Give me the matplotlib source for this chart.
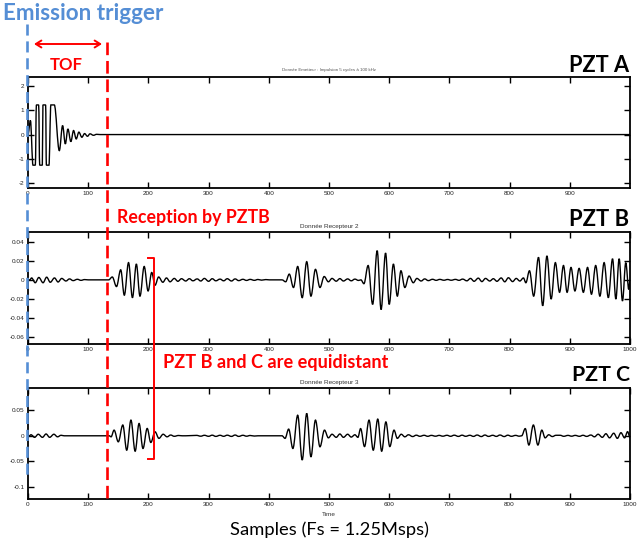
import matplotlib
matplotlib.use('Agg')
import matplotlib.pyplot as plt
from matplotlib.lines import Line2D
from matplotlib.patches import FancyArrowPatch, PathPatch
from matplotlib.path import Path

W, H = 639, 544

# ---------------- data (extrema: sample index, amplitude) -------------
a_pos = [0, 4, 8.3, 12.2, 13.9, 17.7, 19.4, 23.8, 24.8, 29.3, 30.5, 34.8, 38, 43.7,
         52, 57.5, 62, 66.3, 71.2, 75.7, 80.1, 84.5, 89.5, 94, 98.8, 103, 108.8, 114, 120, 1000]
a_val = [0, 0.58, -1.26, -1.26, 1.22, 1.22, -1.26, -1.26, 1.22, 1.22, -1.26, -1.26, 1.22, 1.22,
         -0.66, 0.37, -0.385, 0.23, -0.29, 0.165, -0.18, 0.10, -0.11, 0.04, -0.07, 0.03, -0.03,
         0.01, 0, 0]

b_pos = [0, 3, 6, 12, 18, 25, 31, 37, 44, 50, 56, 63, 69, 75, 82, 88, 94, 100, 134,
         140, 147, 154, 160, 167, 173.5, 180, 186, 193, 199.5, 205.5, 211,
         217, 224, 230, 236, 243, 249, 255, 262, 268, 274, 281, 287, 293, 300, 306, 312,
         319, 325, 331, 338, 344, 350, 357, 363, 369, 376, 382, 388, 395, 401, 422,
         428, 434, 441, 448, 455.5, 463, 470, 477.5, 485, 492, 499,
         505, 512, 518, 524, 531, 537, 543, 549, 553,
         558, 565, 572.5, 580, 586.5, 594, 600, 607, 613.5, 619.5, 626, 633, 640,
         646, 653, 659, 665, 672, 678, 684, 691, 697, 703, 710, 716, 722, 729, 735, 741,
         748, 754, 760, 767, 773, 779, 786, 792, 798, 805, 811, 817, 823,
         827, 833, 840, 848, 855, 862, 869, 876, 883, 889.5, 895.5, 902, 908.5, 915.5,
         922.5, 929.5, 936, 943, 950, 957, 964, 971, 976.5, 982, 987.5, 993, 998, 1000]
b_val = [0, 0, 0.002, -0.003, 0.0025, -0.003, 0.0028, -0.0025, 0.002, -0.0022, 0.0015, -0.0012,
         0.001, -0.0008, 0.0006, -0.0005, 0.0003, 0, 0,
         0.003, -0.007, 0.0105, -0.016, 0.018, -0.0186, 0.0165, -0.017, 0.014, -0.0116, 0.0077, -0.0056,
         0.003, -0.0025, 0.002, -0.002, 0.0015, -0.0015, 0.0012, -0.0012, 0.0012, -0.001, 0.001,
         -0.0012, 0.0015, -0.0015, 0.0012, -0.001,
         0.0008, -0.001, 0.0012, -0.0012, 0.001, -0.0008, 0.0006, -0.0006, 0.0005, -0.0005, 0.0004,
         -0.0003, 0.0003, 0, 0,
         -0.002, 0.006, -0.008, 0.014, -0.0186, 0.019, -0.017, 0.011, -0.008, 0.0035, -0.002,
         0.0015, -0.0014, 0.0013, -0.0012, 0.001, -0.001, 0.0008, -0.0006, 0,
         -0.004, 0.015, -0.0256, 0.0305, -0.031, 0.028, -0.0256, 0.0165, -0.017, 0.0095, -0.008,
         0.004, -0.003,
         0.0015, -0.0012, 0.001, -0.0008, 0.0006, -0.0005, 0.0005, -0.0004, 0.0004, -0.0004, 0.0005,
         -0.0005, 0.0008, -0.001, 0.0015, -0.0015,
         0.0018, -0.0018, 0.0015, -0.0012, 0.0012, -0.0015, 0.002, -0.002, 0.0022, -0.0018, 0.0015,
         -0.0012, 0.002,
         -0.003, 0.0095, -0.017, 0.0235, -0.027, 0.025, -0.020, 0.018, -0.013, 0.015, -0.013, 0.013,
         -0.0116, 0.012,
         -0.013, 0.013, -0.015, 0.015, -0.017, 0.018, -0.0186, 0.022, -0.020, 0.022, -0.022, 0.018,
         -0.010, 0]

c_pos = [0, 2, 5, 11, 17, 24, 30, 36, 43, 49, 55, 60, 135,
         138, 143, 150, 157.5, 164, 171, 178, 184.5, 191, 198, 204, 211, 217.5, 224.5, 231, 237,
         243, 250, 256, 262,
         280, 287, 293, 300, 306, 312, 319, 325, 331, 338, 344, 350, 357, 363, 369, 376, 382, 418,
         422, 427, 433, 440, 448, 455.5, 463, 470, 477.5, 485, 492.5, 499,
         505, 512, 518, 524, 531, 537, 543, 548,
         552.5, 559, 566.5, 573.5, 581, 587.5, 594.5, 601, 608, 613.5, 620, 626,
         632, 639, 645, 651, 658, 664, 670, 677, 683, 689, 696, 702, 708, 715, 721, 727, 734,
         740, 746, 753, 759, 765, 772, 778, 784, 791, 797, 803, 810, 816, 820,
         826, 832, 839.5, 847, 853.5, 859, 865, 871, 877,
         884, 890, 897, 903, 909, 916, 922, 928, 935, 941, 947, 954, 960, 966, 973, 979, 985,
         991, 996, 1000]
c_val = [0, 0, 0.002, -0.003, 0.003, -0.003, 0.0035, -0.003, 0.003, -0.002, 0.001, 0, 0,
         -0.002, 0.011, -0.0117, 0.021, -0.028, 0.0305, -0.030, 0.024, -0.0247, 0.0143, -0.013,
         0.0078, -0.005, 0.003, -0.002, 0.0015, -0.001, 0.0006, 0, 0,
         0.0008, -0.0008, 0.001, -0.001, 0.0012, -0.0012, 0.001, -0.001, 0.0012, -0.0012, 0.0015,
         -0.0012, 0.001, -0.0008, 0.0006, -0.0005, 0, 0,
         0, -0.005, 0.013, -0.0247, 0.040, -0.047, 0.0435, -0.041, 0.0305, -0.0214, 0.011, -0.004,
         0.003, -0.003, 0.0035, -0.003, 0.003, -0.0025, 0.002, -0.003,
         0.014, -0.021, 0.0305, -0.028, 0.0325, -0.030, 0.027, -0.021, 0.011, -0.005, 0.003, -0.002,
         0.002, -0.0015, 0.0012, -0.001, 0.001, -0.001, 0.0008, -0.0008, 0.0008, -0.0008, 0.001,
         -0.001, 0.0012, -0.0012, 0.0012, -0.001, 0.001,
         -0.0012, 0.0015, -0.0015, 0.0015, -0.0012, 0.001, -0.0012, 0.0015, -0.0015, 0.0012, -0.001,
         0.0008, -0.0008, 0,
         0.014, -0.018, 0.021, -0.018, 0.011, -0.004, 0.002, -0.0015, 0.001,
         0.001, -0.001, 0.0008, -0.0008, 0.0008, -0.001, 0.001, -0.0012, 0.0015, -0.002, 0.003,
         -0.003, 0.004, -0.004, 0.005, -0.005, 0.006, -0.004, 0.008, -0.003]

x_ticks = [0, 100, 200, 300, 400, 500, 600, 700, 800, 900, 1000]
a_yticks = [-2, -1, 0, 1, 2]
a_ylabels = ['-2', '-1', '0', '1', '2']
b_yticks = [-0.06, -0.04, -0.02, 0, 0.02, 0.04]
b_ylabels = ['-0.06', '-0.04', '-0.02', '0', '0.02', '0.04']
c_yticks = [-0.1, -0.05, 0, 0.05]
c_ylabels = ['-0.1', '-0.05', '0', '0.05']

# ---------------- figure ----------------
fig = plt.figure(figsize=(W / 100, H / 100), dpi=100)


def fx(px):
    return px / W


def fy(py):
    return 1 - py / H


LEFT, RIGHT = 28, 630


def make_ax(top, bottom):
    ax = fig.add_axes([fx(LEFT), fy(bottom), fx(RIGHT) - fx(LEFT), fy(top) - fy(bottom)])
    for s in ax.spines.values():
        s.set_linewidth(1.3)
    ax.tick_params(direction='in', top=True, right=True, length=4, width=1.0,
                   labelsize=4.6, pad=2.5, labelcolor='#222222')
    return ax


def draw_wave(ax, xs, ys):
    # smooth curve through the extrema (horizontal tangent at each extremum)
    verts = [(xs[0], ys[0])]
    codes = [Path.MOVETO]
    for i in range(1, len(xs)):
        dx = xs[i] - xs[i - 1]
        verts += [(xs[i - 1] + 0.364 * dx, ys[i - 1]), (xs[i] - 0.364 * dx, ys[i]), (xs[i], ys[i])]
        codes += [Path.CURVE4] * 3
    ax.add_patch(PathPatch(Path(verts, codes), facecolor='none', edgecolor='black', lw=1.0))


axA = make_ax(77, 188)
draw_wave(axA, a_pos, a_val)
axA.set_xlim(0, 1000)
axA.set_ylim(-2.2, 2.37)
axA.set_xticks(x_ticks[:-1])
axA.set_xticklabels([str(t) for t in x_ticks[:-1]], family='Liberation Sans')
axA.set_yticks(a_yticks)
axA.set_yticklabels(a_ylabels, family='Liberation Sans')
axA.set_title("Donnée Emetteur : Impulsion 5 cycles à 100 kHz", fontsize=3.2,
              color='#555555', pad=4, family='Liberation Sans')

axB = make_ax(232, 344)
draw_wave(axB, b_pos, b_val)
axB.set_xlim(0, 1000)
axB.set_ylim(-0.067, 0.05)
axB.set_xticks(x_ticks)
axB.set_xticklabels([str(t) for t in x_ticks], family='Liberation Sans')
axB.set_yticks(b_yticks)
axB.set_yticklabels(b_ylabels, family='Liberation Sans')
axB.set_title("Donnée Recepteur 2", fontsize=4.6, color='#333333', pad=3,
              family='Liberation Sans')

axC = make_ax(388, 499)
draw_wave(axC, c_pos, c_val)
axC.set_xlim(0, 1000)
axC.set_ylim(-0.123, 0.093)
axC.set_xticks(x_ticks)
axC.set_xticklabels([str(t) for t in x_ticks], family='Liberation Sans')
axC.set_yticks(c_yticks)
axC.set_yticklabels(c_ylabels, family='Liberation Sans')
axC.set_title("Donnée Recepteur 3", fontsize=4.6, color='#333333', pad=3,
              family='Liberation Sans')

fig.text(fx(329), fy(514), "Time", fontsize=4.6, color='#333333', ha='center', va='center',
         family='Liberation Sans')

# ---------------- annotations ----------------
RED = '#ff0000'
BLUE = '#558ed5'

fig.canvas.draw()
renderer = fig.canvas.get_renderer()


def fit_text(x0, x1, ybase, s, color, weight='bold', family='Lato', size0=12):
    t = fig.text(fx(x0), fy(ybase), s, color=color, fontweight=weight, family=family,
                 fontsize=size0, ha='left', va='baseline', zorder=20)
    w = t.get_window_extent(renderer).width
    t.set_fontsize(size0 * (x1 - x0) / w)
    return t


fit_text(3, 163, 20, "Emission trigger", BLUE)
fit_text(50, 83, 70, "TOF", RED)
fit_text(117, 269, 223, "Reception by PZTB", RED)
fit_text(163, 388, 368, "PZT B and C are equidistant", RED)
fit_text(569, 629, 72, "PZT A", 'black')
fit_text(569, 629, 226, "PZT B", 'black')
fit_text(572, 630, 381, "PZT C", 'black')
fit_text(230, 428, 535, "Samples (Fs = 1.25Msps)", 'black', weight='normal')

# trigger line (blue) and reception line (red)
fig.add_artist(Line2D([fx(27), fx(27)], [fy(24), fy(480)], color=BLUE, lw=1.9,
                      linestyle=(0, (4.2, 2.2)), zorder=15))
fig.add_artist(Line2D([fx(107), fx(107)], [fy(42), fy(500)], color=RED, lw=1.9,
                      linestyle=(0, (4.8, 2.2)), zorder=15))

# TOF double arrow
fig.add_artist(FancyArrowPatch((fx(34), fy(44)), (fx(102), fy(44)), transform=fig.transFigure,
                               arrowstyle='<->,head_length=4,head_width=2.5', color=RED,
                               lw=1.4, zorder=15, shrinkA=0, shrinkB=0))

# bracket
fig.add_artist(Line2D([fx(148), fx(154), fx(154), fx(148)], [fy(258), fy(258), fy(459), fy(459)],
                      color=RED, lw=1.4, zorder=15))

fig.savefig('out.png', dpi=100)
